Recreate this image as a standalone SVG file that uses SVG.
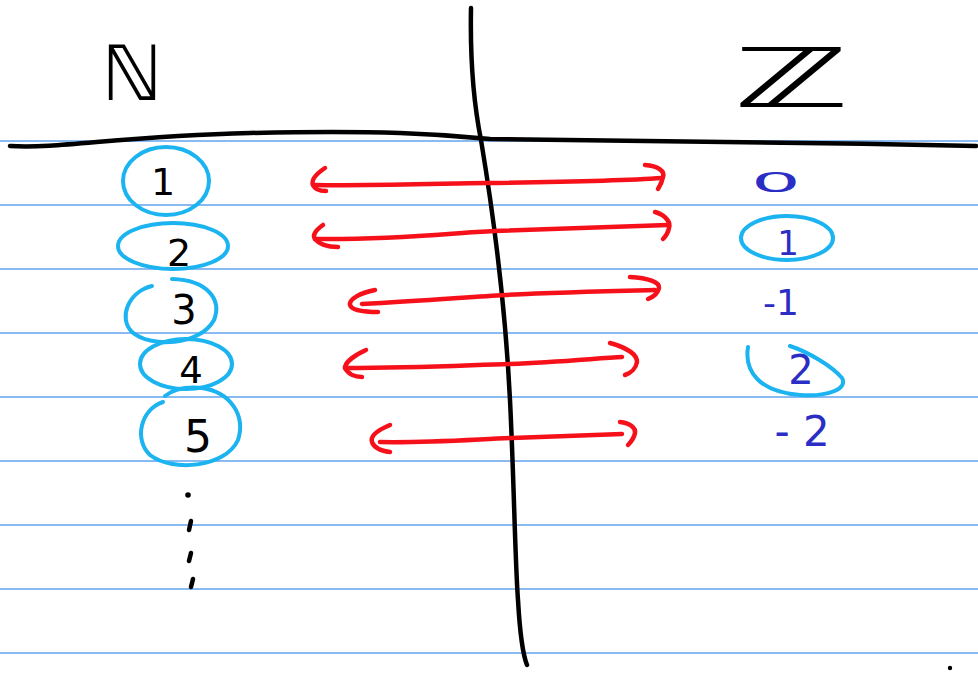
<svg xmlns="http://www.w3.org/2000/svg" width="978" height="673" viewBox="0 0 978 673">
<style>
.rule{stroke:#62a4ee;stroke-width:1.5;fill:none}
.ink{stroke:#000;stroke-width:4.5;fill:none;stroke-linecap:round;stroke-linejoin:round}
.red{stroke:#f5101a;stroke-width:4.5;fill:none;stroke-linecap:round;stroke-linejoin:round}
.ring{stroke:#1bb3f0;stroke-width:4;fill:none;stroke-linecap:round}
.num{font-family:"DejaVu Sans",sans-serif;fill:#000;text-anchor:middle}
.znum{font-family:"DejaVu Sans",sans-serif;fill:#2a2ec4;text-anchor:middle}
</style>
<rect width="978" height="673" fill="#fff"/>
<g id="rules">
<line class="rule" x1="0" y1="141" x2="978" y2="141"/>
<line class="rule" x1="0" y1="205" x2="978" y2="205"/>
<line class="rule" x1="0" y1="269" x2="978" y2="269"/>
<line class="rule" x1="0" y1="333" x2="978" y2="333"/>
<line class="rule" x1="0" y1="397" x2="978" y2="397"/>
<line class="rule" x1="0" y1="461" x2="978" y2="461"/>
<line class="rule" x1="0" y1="525" x2="978" y2="525"/>
<line class="rule" x1="0" y1="589" x2="978" y2="589"/>
<line class="rule" x1="0" y1="653" x2="978" y2="653"/>
</g>
<g id="axes">
<path class="ink" d="M10,146 C60,149 120,136 250,133 C380,130 440,134 490,139 C600,141 800,142 976,146"/>
<path class="ink" d="M471,8 C470,60 473,100 481,140 C491,200 505,300 510,400 C514,480 515,560 518,600 C520,635 523,655 527,665"/>
<circle cx="950" cy="668" r="2.2" fill="#000"/>
</g>
<g id="title-N"><text class="num" x="132" y="100" font-size="76">ℕ</text></g>
<g id="title-Z"><text class="num" transform="translate(791,107) scale(1.9,1)" x="0" y="0" font-size="82">ℤ</text></g>
<g id="n1"><ellipse class="ring" cx="166" cy="181" rx="43" ry="34"/><text class="num" x="163" y="195" font-size="38">1</text></g>
<g id="n2"><ellipse class="ring" cx="173" cy="246" rx="55" ry="23"/><text class="num" x="179" y="266" font-size="38">2</text></g>
<g id="n3"><path class="ring" d="M152,286 C128,292 118,318 132,332 C150,348 200,346 214,320 C222,300 208,280 172,279"/><text class="num" x="184" y="324" font-size="40">3</text></g>
<g id="n4"><ellipse class="ring" cx="186" cy="364" rx="46" ry="25"/><text class="num" x="191" y="383" font-size="37">4</text></g>
<g id="n5"><path class="ring" d="M163,402 C140,410 134,440 150,455 C172,472 225,468 238,440 C246,415 230,392 202,388 C180,386 170,392 165,396"/><text class="num" x="198" y="452" font-size="44">5</text></g>
<g id="dots">
<circle cx="188" cy="495" r="2.8" fill="#000"/>
<line class="ink" x1="191" y1="521" x2="189" y2="530"/>
<line class="ink" x1="191" y1="553" x2="189" y2="561"/>
<line class="ink" x1="193" y1="579" x2="191" y2="587"/>
</g>
<g id="z0"><text class="znum" transform="translate(776,192) scale(2.3,0.8)" x="0" y="0" font-size="34">0</text></g>
<g id="z1"><ellipse class="ring" cx="787" cy="238" rx="46" ry="22"/><text class="znum" x="788" y="255" font-size="34">1</text></g>
<g id="zm1"><text class="znum" x="781" y="315" font-size="36">-1</text></g>
<g id="z2"><path class="ring" d="M748,347 C744,372 760,392 800,395 C830,397 848,388 842,378 C832,366 808,352 790,346"/><text class="znum" x="801" y="384" font-size="40">2</text></g>
<g id="zm2"><text class="znum" x="802" y="446" font-size="42">- 2</text></g>
<g id="connectors">
<path class="red" d="M313,185 C400,186 450,183 487,183 C560,182 620,181 662,178"/>
<path class="red" d="M325,168 C316,174 311,180 313,185 C315,190 322,191 326,191"/>
<path class="red" d="M645,165 C658,166 665,171 663,177 C662,182 660,186 658,189"/>
<path class="red" d="M315,239 C400,240 450,233 494,231 C560,229 620,227 668,225"/>
<path class="red" d="M323,225 C316,230 312,235 315,239 C320,245 330,247 338,247"/>
<path class="red" d="M655,212 C666,215 671,223 669,228 C668,233 666,236 663,239"/>
<path class="red" d="M362,304 C420,301 470,297 505,295 C560,292 610,291 655,290"/>
<path class="red" d="M375,290 C360,293 349,299 350,305 C352,311 365,312 378,312"/>
<path class="red" d="M630,277 C648,278 660,282 659,288 C658,293 653,297 648,299"/>
<path class="red" d="M345,368 C420,368 470,365 510,364 C560,362 600,358 622,357"/>
<path class="red" d="M366,350 C355,355 345,362 345,368 C348,374 355,377 362,377"/>
<path class="red" d="M610,343 C628,348 637,355 637,362 C636,368 631,373 625,375"/>
<path class="red" d="M380,442 C430,443 480,439 512,438 C560,436 600,435 622,434"/>
<path class="red" d="M390,425 C378,430 370,436 372,442 C374,448 382,451 390,452"/>
<path class="red" d="M620,422 C630,423 636,428 635,433 C634,438 631,442 628,445"/>
</g>
</svg>
